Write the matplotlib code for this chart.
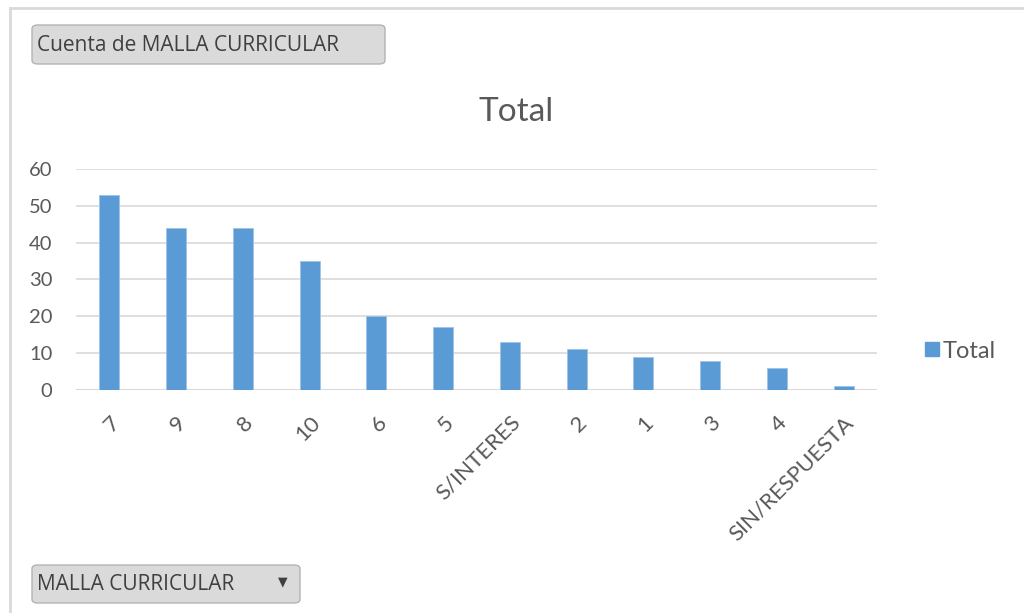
import matplotlib.pyplot as plt
from matplotlib.patches import FancyBboxPatch
from matplotlib.lines import Line2D

categories = ['7', '9', '8', '10', '6', '5', 'S/INTERES', '2', '1', '3', '4', 'SIN/RESPUESTA']
totals = [53, 44, 44, 35, 20, 17, 13, 11, 9, 8, 6, 1]

plt.rcParams['font.family'] = ['Lato', 'DejaVu Sans']
grey_txt = '#595959'
bar_col = '#5b9bd5'

fig = plt.figure(figsize=(10.24, 6.13), dpi=100)
ax = fig.add_axes([0.0742, 0.3638, 0.7822, 0.3605])

x = range(len(categories))
ax.bar(x, totals, width=0.3, color=bar_col, edgecolor='#9dc3e6', linewidth=0.6,
       label='Total', zorder=3)
ax.set_xlim(-0.5, len(categories) - 0.5)
ax.set_ylim(0, 60)
ax.set_yticks(range(0, 61, 10))
ax.grid(axis='y', color='#d9d9d9', linewidth=1.2, zorder=0)
for s in ax.spines.values():
    s.set_visible(False)
ax.axhline(0, color='#d9d9d9', linewidth=1.5, zorder=2)
ax.tick_params(length=0, colors=grey_txt, labelsize=14.5)
ax.tick_params(axis='y', pad=17)
ax.set_xticks(list(x))
ax.set_xticklabels(categories, rotation=45, ha='right', rotation_mode='anchor')
ax.tick_params(axis='x', pad=16, labelsize=16)

fig.text(0.504, 0.818, 'Total', ha='center', va='center', fontsize=24, color=grey_txt)

handles = [Line2D([0], [0], marker='s', color='none', markerfacecolor=bar_col,
                  markeredgecolor=bar_col, markersize=10)]
fig.legend(handles, ['Total'], loc='center left', bbox_to_anchor=(0.88, 0.427),
           frameon=False, fontsize=17, handletextpad=0.05, labelcolor=grey_txt,
           handlelength=0.8)

# frame of the pivot chart area
fig.add_artist(Line2D([10 / 1024, 1], [1 - 8 / 613, 1 - 8 / 613], color='#d9d9d9', linewidth=2))
fig.add_artist(Line2D([10 / 1024, 10 / 1024], [0, 1 - 8 / 613], color='#d9d9d9', linewidth=2))

# field buttons
def button(x0, y0, w, h, text):
    box = FancyBboxPatch((x0 / 1024, 1 - (y0 + h) / 613), w / 1024, h / 613,
                         boxstyle='round,pad=0,rounding_size=0.006',
                         facecolor='#dadada', edgecolor='#b3b3b3', linewidth=1,
                         transform=fig.transFigure)
    fig.add_artist(box)
    fig.text((x0 + 5) / 1024, 1 - (y0 + h / 2 + 1) / 613, text, ha='left', va='center',
             fontsize=15, color='#404040', family=['Open Sans', 'DejaVu Sans'])

button(32, 25, 353, 39, 'Cuenta de MALLA CURRICULAR')
button(32, 565, 268, 38, 'MALLA CURRICULAR')
fig.text(283 / 1024, 1 - 582 / 613, '\u25bc', ha='center', va='center', fontsize=9,
         color='#404040', family='DejaVu Sans')

fig.savefig('out.png', dpi=100)
